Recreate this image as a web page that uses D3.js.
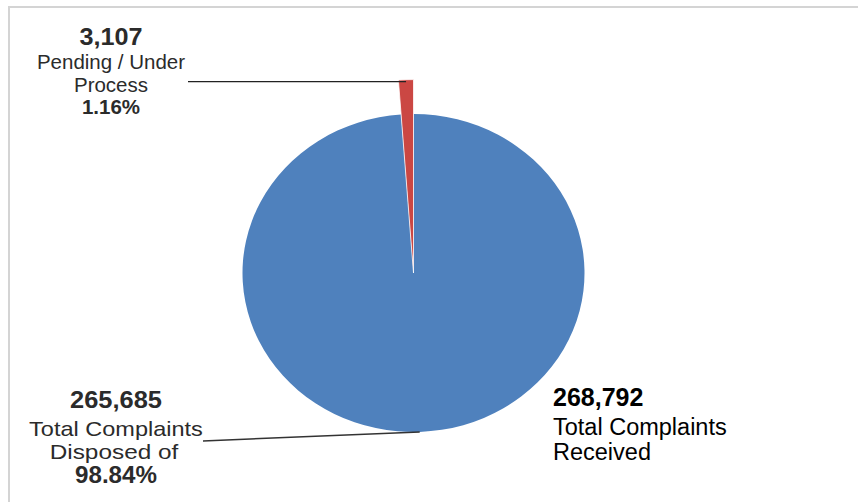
<!DOCTYPE html>
<html>
<head>
<meta charset="utf-8">
<script src="https://cdn.jsdelivr.net/npm/d3@7"></script>
<style>
  body { margin: 0; background: #fff; }
  text { font-family: 'Liberation Sans', Arial, sans-serif; }
</style>
</head>
<body>
<script>
// data
const categories = ['Total Complaints Disposed of', 'Pending / Under Process']
const values = [265685, 3107]
const percents = ['98.84%', '1.16%']
const labelLines = [['Total Complaints', 'Disposed of'], ['Pending / Under', 'Process']]
const totalValue = 268792
const totalLines = ['Total Complaints', 'Received']
const colors = ['#4F81BD', '#CB4743']

const width = 858
const height = 502
const cx = 413.5
const cy = 273
const r = 171
const squash = 159 / 171

const svg = d3.select('body').append('svg')
  .attr('width', width)
  .attr('height', height)

// frame (cropped at right and bottom)
svg.append('path')
  .attr('d', `M9,${height} L9,7 L${width},7`)
  .style('fill', 'none')
  .style('stroke', '#d4d4d4')
  .style('stroke-width', 2)

const data = categories.map((c, i) => ({ name: c, value: values[i], pct: percents[i], lines: labelLines[i] }))

const pie = d3.pie().sort(null).value(d => d.value)
const arcs = pie(data)

const arcMain = d3.arc().innerRadius(0).outerRadius(r)
const arcPulled = d3.arc().innerRadius(0).outerRadius(208)

const g = svg.append('g')
  .attr('transform', `translate(${cx}, ${cy}) scale(1, ${squash})`)

g.selectAll('.slice')
  .data(arcs)
  .enter().append('path')
  .attr('class', 'slice')
  .attr('d', (d, i) => i === 1 ? arcPulled(d) : arcMain(d))
  .style('fill', (d, i) => colors[i])
  .style('stroke', (d, i) => i === 1 ? '#fff' : 'none')
  .style('stroke-width', 0.8)

// point on the ellipse for a given angle and radius
const pt = (a, rad) => [cx + rad * Math.sin(a), cy - rad * Math.cos(a) * squash]
const mid = d => (d.startAngle + d.endAngle) / 2

// leader lines
const topEnd = pt(mid(arcs[1]), 206)
svg.append('line')
  .attr('x1', 188).attr('y1', topEnd[1])
  .attr('x2', topEnd[0]).attr('y2', topEnd[1])
  .style('stroke', '#222')
  .style('stroke-width', 1.2)

const botEnd = pt(mid(arcs[0]), r)
svg.append('line')
  .attr('x1', 203).attr('y1', 441)
  .attr('x2', botEnd[0]).attr('y2', botEnd[1])
  .style('stroke', '#333')
  .style('stroke-width', 1.5)

const fmt = d3.format(',')

// one line of label text, optionally stretched a bit sideways
function addLine(x, y, txt, size, bold, opts = {}) {
  return svg.append('text')
    .attr('transform', `translate(${x}, ${y}) scale(${opts.sx || 1}, 1)`)
    .attr('text-anchor', opts.anchor || 'middle')
    .style('font-size', size + 'px')
    .style('font-weight', bold ? 'bold' : 'normal')
    .style('fill', opts.fill || '#2b2b2b')
    .text(txt)
}

// pending label (top left)
addLine(111, 45, fmt(data[1].value), 24, true, { sx: 1.05 })
data[1].lines.forEach((l, i) => addLine(111, 69 + i * 23, l, 20.5, false))
addLine(111, 114, data[1].pct, 20.5, true)

// disposed label (bottom left)
addLine(116, 408, fmt(data[0].value), 24, true, { sx: 1.06 })
addLine(116, 436, data[0].lines[0], 21, false, { sx: 1.12 })
addLine(114, 459, data[0].lines[1], 21, false, { sx: 1.16 })
addLine(116, 483, data[0].pct, 23, true, { sx: 1.05 })

// total label (bottom right)
addLine(553, 406, fmt(totalValue), 25, true, { anchor: 'start', fill: '#000' })
totalLines.forEach((l, i) => addLine(553, 435 + i * 25, l, 23.5, false, { anchor: 'start', fill: '#000' }))
</script>
</body>
</html>
